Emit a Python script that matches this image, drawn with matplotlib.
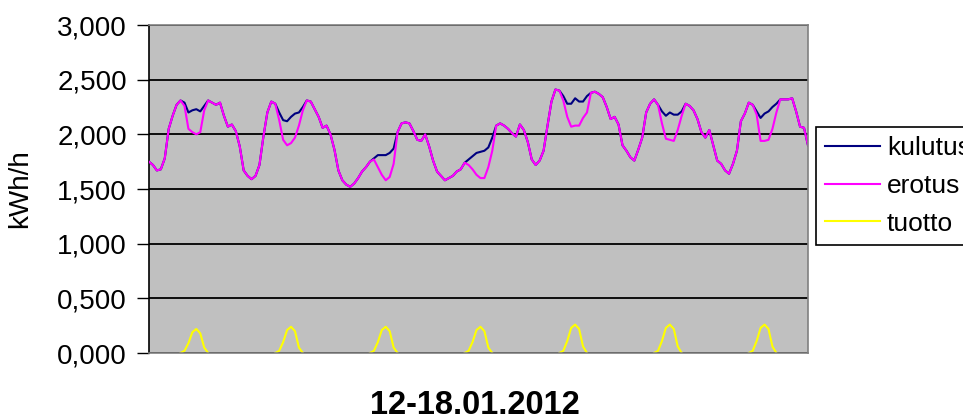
import numpy as np
import matplotlib.pyplot as plt
from matplotlib.ticker import FuncFormatter

plt.rcParams['font.family'] = ['Liberation Sans', 'DejaVu Sans']

# Hourly values 12.-18.1.2012, one row per day (kWh/h)
kulutus = [
    1.75, 1.72, 1.67, 1.68, 1.78, 2.05, 2.17, 2.27, 2.31, 2.29, 2.20, 2.22, 2.23, 2.21, 2.26, 2.31, 2.29, 2.27, 2.29, 2.17, 2.07, 2.09, 2.03, 1.89,
    1.67, 1.62, 1.59, 1.62, 1.72, 1.98, 2.20, 2.30, 2.28, 2.20, 2.13, 2.12, 2.16, 2.19, 2.20, 2.25, 2.31, 2.30, 2.23, 2.16, 2.06, 2.08, 2.00, 1.86,
    1.67, 1.58, 1.54, 1.52, 1.55, 1.60, 1.66, 1.70, 1.75, 1.78, 1.81, 1.81, 1.81, 1.83, 1.87, 2.02, 2.10, 2.11, 2.10, 2.03, 1.95, 1.94, 2.00, 1.89,
    1.76, 1.66, 1.62, 1.58, 1.60, 1.62, 1.66, 1.68, 1.74, 1.77, 1.80, 1.83, 1.84, 1.85, 1.88, 1.97, 2.08, 2.10, 2.08, 2.05, 2.01, 1.98, 2.09, 2.04,
    1.93, 1.77, 1.72, 1.76, 1.85, 2.08, 2.30, 2.41, 2.40, 2.35, 2.28, 2.28, 2.33, 2.30, 2.30, 2.35, 2.38, 2.39, 2.37, 2.34, 2.25, 2.14, 2.16, 2.09,
    1.90, 1.85, 1.79, 1.76, 1.86, 1.97, 2.20, 2.28, 2.32, 2.27, 2.21, 2.17, 2.20, 2.18, 2.18, 2.21, 2.28, 2.26, 2.22, 2.14, 2.02, 1.97, 2.04, 1.90,
    1.76, 1.73, 1.67, 1.64, 1.73, 1.85, 2.12, 2.19, 2.29, 2.27, 2.21, 2.15, 2.19, 2.21, 2.25, 2.28, 2.32, 2.32, 2.32, 2.33, 2.21, 2.07, 2.06, 1.90,
]
erotus = [
    1.75, 1.72, 1.67, 1.68, 1.78, 2.05, 2.17, 2.27, 2.31, 2.26, 2.05, 2.02, 2.00, 2.02, 2.22, 2.31, 2.29, 2.27, 2.29, 2.17, 2.07, 2.09, 2.03, 1.89,
    1.67, 1.62, 1.59, 1.62, 1.72, 1.98, 2.20, 2.30, 2.28, 2.13, 1.95, 1.90, 1.92, 1.97, 2.08, 2.22, 2.31, 2.30, 2.23, 2.16, 2.06, 2.08, 2.00, 1.86,
    1.67, 1.58, 1.54, 1.52, 1.55, 1.60, 1.66, 1.70, 1.75, 1.77, 1.70, 1.63, 1.58, 1.61, 1.73, 2.02, 2.10, 2.11, 2.10, 2.03, 1.95, 1.94, 2.00, 1.89,
    1.76, 1.66, 1.62, 1.58, 1.60, 1.62, 1.66, 1.68, 1.74, 1.72, 1.68, 1.63, 1.60, 1.60, 1.70, 1.85, 2.08, 2.10, 2.08, 2.05, 2.01, 1.98, 2.09, 2.04,
    1.93, 1.77, 1.72, 1.76, 1.85, 2.08, 2.30, 2.41, 2.40, 2.31, 2.16, 2.07, 2.08, 2.08, 2.15, 2.20, 2.38, 2.39, 2.37, 2.34, 2.25, 2.14, 2.16, 2.09,
    1.90, 1.85, 1.79, 1.76, 1.86, 1.97, 2.20, 2.28, 2.32, 2.27, 2.10, 1.96, 1.95, 1.94, 2.04, 2.17, 2.28, 2.26, 2.22, 2.14, 2.02, 1.97, 2.04, 1.90,
    1.76, 1.73, 1.67, 1.64, 1.73, 1.85, 2.12, 2.19, 2.29, 2.27, 2.18, 1.94, 1.94, 1.95, 2.05, 2.20, 2.32, 2.32, 2.32, 2.33, 2.21, 2.07, 2.06, 1.90,
]
tuotto = [
    0, 0, 0, 0, 0, 0, 0, 0, 0, 0.02, 0.09, 0.19, 0.22, 0.18, 0.05, 0, 0, 0, 0, 0, 0, 0, 0, 0,
    0, 0, 0, 0, 0, 0, 0, 0, 0, 0.02, 0.10, 0.21, 0.24, 0.20, 0.05, 0, 0, 0, 0, 0, 0, 0, 0, 0,
    0, 0, 0, 0, 0, 0, 0, 0, 0, 0.02, 0.10, 0.21, 0.24, 0.20, 0.05, 0, 0, 0, 0, 0, 0, 0, 0, 0,
    0, 0, 0, 0, 0, 0, 0, 0, 0, 0.02, 0.10, 0.21, 0.24, 0.20, 0.05, 0, 0, 0, 0, 0, 0, 0, 0, 0,
    0, 0, 0, 0, 0, 0, 0, 0, 0, 0.02, 0.11, 0.23, 0.26, 0.22, 0.06, 0, 0, 0, 0, 0, 0, 0, 0, 0,
    0, 0, 0, 0, 0, 0, 0, 0, 0, 0.02, 0.11, 0.23, 0.26, 0.22, 0.06, 0, 0, 0, 0, 0, 0, 0, 0, 0,
    0, 0, 0, 0, 0, 0, 0, 0, 0, 0.02, 0.11, 0.23, 0.26, 0.22, 0.06, 0, 0, 0, 0, 0, 0, 0, 0, 0,
]
series_names = ['kulutus', 'erotus', 'tuotto']
series_colors = ['#000080', '#FF00FF', '#FFFF00']
title = '12-18.01.2012'
ylabel = 'kWh/h'

hours = np.arange(len(kulutus))

# the zero stretches of tuotto sit under the x axis line in the original
t = np.array(tuotto, dtype=float)
nb = np.convolve(t > 0, [1, 1, 1], mode='same') > 0
tuotto_shown = np.ma.masked_where(~nb, t)

fig = plt.figure(figsize=(9.63, 4.19), dpi=100)
ax = fig.add_axes([0.1547, 0.1575, 0.6843, 0.7828])
ax.set_facecolor('#C0C0C0')

for vals, name, col in zip([kulutus, erotus, tuotto_shown], series_names, series_colors):
    ax.plot(hours, vals, color=col, lw=1.5, label=name, zorder=3)

ax.set_xlim(0, len(kulutus) - 1)
ax.set_ylim(0, 3)
ax.set_yticks(np.arange(0, 3.01, 0.5))
ax.yaxis.set_major_formatter(FuncFormatter(lambda v, p: f'{v:,.3f}'.replace('.', ',')))
ax.set_xticks([])
ax.grid(axis='y', color='black', lw=1.3, zorder=1)
ax.set_axisbelow(True)
ax.tick_params(axis='y', direction='out', length=9, width=1, labelsize=20, pad=7)

for s in ['top', 'right', 'bottom']:
    ax.spines[s].set_color('#808080')
    ax.spines[s].set_linewidth(1.2)
    ax.spines[s].set_zorder(4)
ax.spines['left'].set_color('black')
ax.spines['left'].set_linewidth(1.2)

ax.set_ylabel(ylabel, fontsize=20, labelpad=17)
fig.text(0.493, 0.033, title, ha='center', va='center', fontsize=23.5, fontweight='bold')

leg = fig.legend(loc='upper left', bbox_to_anchor=(0.847, 0.697), fontsize=19,
                 frameon=True, fancybox=False, edgecolor='black', framealpha=1,
                 handlelength=2.1, handletextpad=0.25, labelspacing=0.52,
                 borderpad=0.35, borderaxespad=0)
leg.get_frame().set_linewidth(1.2)

fig.savefig('out.png', dpi=100, facecolor='white')
